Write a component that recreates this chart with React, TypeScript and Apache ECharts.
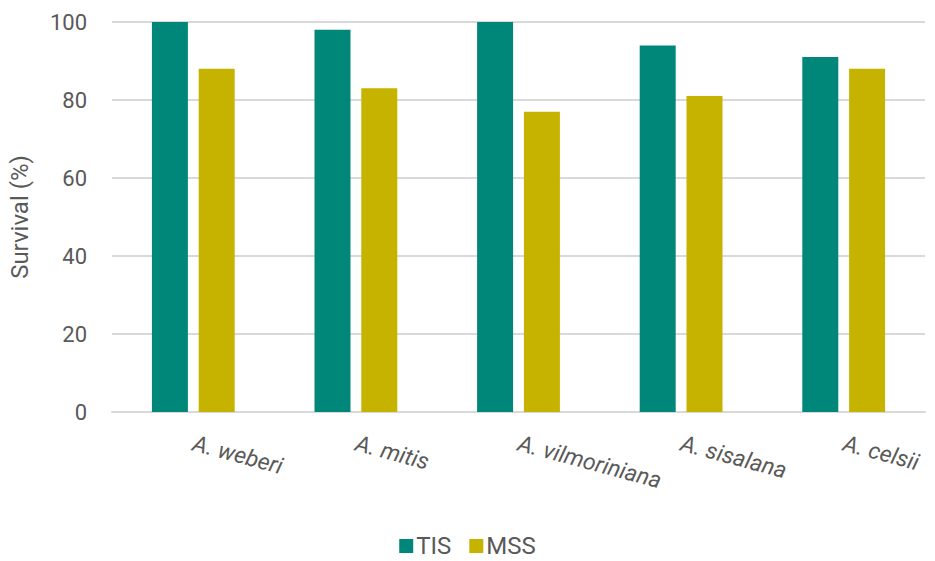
import React, { useEffect, useRef } from "react";
import * as echarts from "echarts";

const categories = ["A. weberi", "A. mitis", "A. vilmoriniana", "A. sisalana", "A. celsii"];
const tisValues = [100, 98, 100, 94, 91];
const mssValues = [88, 83, 77, 81, 88];
const seriesNames = ["TIS", "MSS"];
const yAxisTitle = "Survival (%)";

export default function App() {
  const ref = useRef<HTMLDivElement>(null);

  useEffect(() => {
    document.body.style.margin = "0";
    if (!ref.current) return;
    const chart = echarts.init(ref.current, undefined, { renderer: "svg" });
    const textColor = "#595959";
    const font = "Roboto, 'Noto Sans', sans-serif";
    chart.setOption({
      animation: false,
      backgroundColor: "#ffffff",
      textStyle: { fontFamily: font },
      grid: { left: 110, right: 10, top: 22, bottom: 149, containLabel: false },
      legend: {
        data: seriesNames,
        bottom: 3,
        padding: 0,
        left: "center",
        icon: "rect",
        itemWidth: 14,
        itemHeight: 14,
        itemGap: 18,
        textStyle: { color: textColor, fontSize: 24, fontFamily: font, padding: [0, 0, 0, -2] },
      },
      xAxis: {
        type: "category",
        data: categories,
        axisLine: { show: true, lineStyle: { color: "#d9d9d9", width: 2 } },
        axisTick: { show: false },
        axisLabel: {
          rotate: -15,
          margin: 31,
          color: textColor,
          fontSize: 23,
          fontStyle: "italic",
          fontFamily: font,
          interval: 0,
        },
      },
      yAxis: {
        type: "value",
        min: 0,
        max: 100,
        interval: 20,
        name: yAxisTitle,
        nameLocation: "middle",
        nameGap: 80,
        nameTextStyle: { color: textColor, fontSize: 24, fontFamily: font },
        axisLine: { show: false },
        axisTick: { show: false },
        axisLabel: { color: textColor, fontSize: 22, margin: 25, fontFamily: font },
        splitLine: { lineStyle: { color: "#d9d9d9", width: 2 } },
      },
      series: [
        {
          name: seriesNames[0],
          type: "bar",
          data: tisValues,
          barWidth: 36,
          barGap: "30%",
          itemStyle: { color: "#00877A" },
        },
        {
          name: seriesNames[1],
          type: "bar",
          data: mssValues,
          barWidth: 36,
          itemStyle: { color: "#C6B300" },
        },
      ],
    });
    return () => chart.dispose();
  }, []);

  return <div ref={ref} style={{ width: 935, height: 561 }} />;
}
